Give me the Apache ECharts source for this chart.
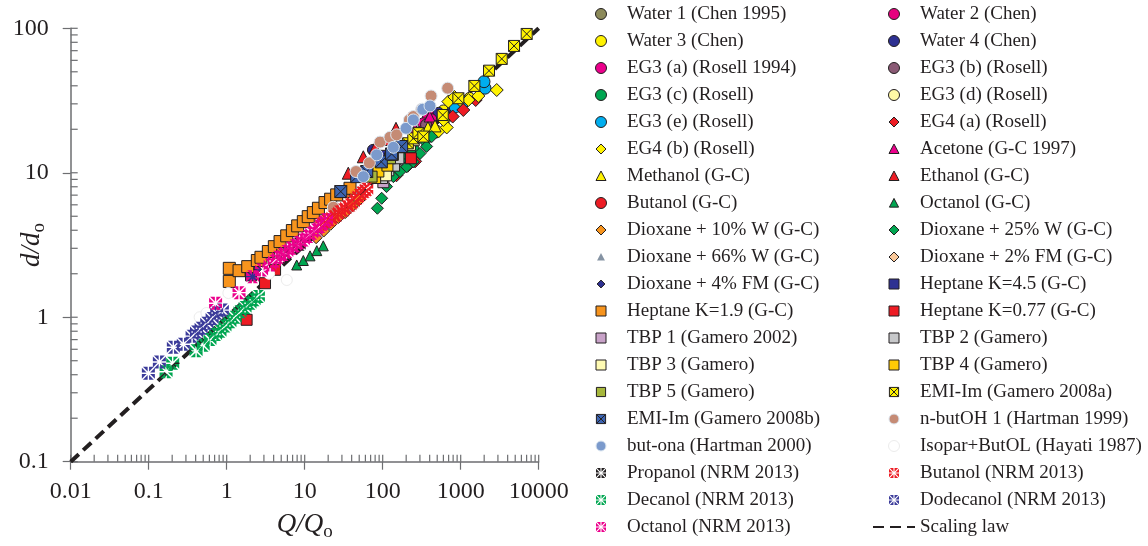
<!DOCTYPE html>
<html>
<head>
<meta charset="utf-8">
<title>Droplet size scaling</title>
<script src="https://cdn.jsdelivr.net/npm/echarts@6.0.0/dist/echarts.min.js"></script>
<style>
html, body { margin: 0; padding: 0; background: #ffffff; }
#chart { width: 1148px; height: 546px; }
</style>
</head>
<body>
<div id="chart"></div>
<script>
// ---- Axis tick labels ----
const xTickLabels = ['0.01', '0.1', '1', '10', '100', '1000', '10000'];
const yTickLabels = ['0.1', '1', '10', '100'];

// ---- Measured points: [Q/Qo, d/do] ----
const water1 = [[150, 14.5], [420, 22]];
const water2 = [[380, 24], [450, 25.5]];
const water3 = [[600, 27], [900, 30.5], [1300, 33]];
const water4 = [[75, 14.4], [520, 26], [800, 28]];
const eg3a = [[330, 22], [420, 23.5]];
const eg3b = [[280, 19], [360, 21.5]];
const eg3c = [[180, 12.5], [250, 14.5], [350, 16.8], [480, 19]];
const eg3d = [[300, 18.5], [650, 24]];
const eg3e = [[850, 28.5], [1100, 31], [2050, 38.5], [1990, 42.7]];
const eg4a = [[150, 9.6], [210, 11.2], [260, 12], [789, 24.5], [1080, 27.2], [1557, 31.9]];
const eg4b = [[366, 17.8], [517, 19.3], [662, 20.6], [600, 23.2], [695, 31.1], [830, 33.5], [980, 31.9], [1254, 31.9], [1684, 34], [2897, 37.4]];
const acetone = [[260, 20], [400, 24.5]];
const methanol = [[300, 19], [380, 20.5], [469, 21.1]];
const ethanol = [[36.2, 9.93], [56.4, 12.9], [80, 14.9], [110, 17], [148, 20.3]];
const butanolGC = [[130, 10.5], [230, 15.8]];
const octanolGC = [[7.9, 2.3], [9.6, 2.47], [11.7, 2.66], [14.3, 2.89], [17.3, 3.12], [180, 13.5], [230, 15]];
const dioxane10W = [[14, 3.55], [17.5, 3.95], [21.5, 4.4], [27, 4.9], [33, 5.3], [41, 5.9], [50, 6.5]];
const dioxane25W = [[85.5, 5.68], [97, 6.66], [112, 8.02], [137, 9.4], [167, 10.2], [203, 11], [247, 11.9], [301, 13.6], [366, 15.2], [425, 17.8]];
const dioxane66W = [[120, 10.8], [165, 12.3]];
const dioxane2FM = [[105, 9.8], [145, 11.5]];
const dioxane4FM = [[2.15, 2.01], [2.45, 2.15]];
const heptane45 = [[2.05, 1.95], [75, 11.6], [95, 13.1]];
const heptane19 = [[1.08, 2.18], [1.08, 1.77], [1.44, 2.10], [1.86, 2.24], [2.47, 2.47], [2.75, 2.60], [3.42, 2.85], [4.08, 3.08], [4.83, 3.34], [5.88, 3.66], [6.95, 3.98], [8.13, 4.29], [9.6, 4.59], [11.1, 4.97], [12.9, 5.30], [15.0, 5.68], [18.2, 6.22], [21.5, 6.56], [25.7, 7.03], [31.3, 7.41], [38.1, 7.81]];
const heptane077 = [[1.80, 0.96], [3.1, 1.72], [4.17, 2.13], [230, 12.6]];
const tbp1 = [[102, 8.6]];
const tbp2 = [[98, 9.2], [118, 10.4], [140, 11.2], [159, 12.6]];
const tbp3 = [[110, 9.6], [224, 15.6], [250, 16.8]];
const tbp4 = [[80, 9.2], [88, 10.2], [115, 11.2]];
const tbp5 = [[72, 9.4], [124, 12.6], [135, 13.3]];
const emiA = [[210, 16], [247, 17.3], [287, 18.8], [332, 17.8], [588, 25.1], [933, 32.8], [1496, 39.9], [2307, 50.9], [3355, 61.4], [4830, 75.5], [7015, 91.4]];
const emiB = [[29, 7.41], [46.4, 9.4], [62.4, 10.2], [96, 11.9], [130, 13.5], [175, 15.2]];
const nButOH = [[23.3, 5.77], [45.5, 10.2], [67.5, 11.7], [92.5, 16.3], [124, 17.6], [151, 18.3], [220, 23.2], [247, 24.5], [316, 27.5], [417, 34], [681, 38.5]];
const butOna = [[56.5, 9.4], [83.8, 13.3], [137, 15], [199, 20.3], [247, 23.2], [326, 27.5], [404, 29]];
const isoparButOL = [[0.45, 1.0], [0.55, 1.07], [1.05, 1.47], [3.5, 2.0], [5.9, 1.81]];
const propanolNRM = [[5.2, 2.75], [8.5, 3.2]];
const butanolNRM = [[16.5, 4.4], [19, 4.6], [21.1, 4.72], [23, 4.95], [25.7, 5.11], [28, 5.35], [31.3, 5.53], [34.5, 5.8], [38.1, 5.99], [42, 6.3], [46.4, 6.66], [50, 6.95], [53.8, 7.21], [58, 7.45], [62.4, 7.69]];
const decanolNRM = [[0.167, 0.42], [0.203, 0.48], [0.405, 0.585], [0.5, 0.64], [0.61, 0.70], [0.72, 0.76], [0.82, 0.80], [0.95, 0.87], [1.1, 0.93], [1.28, 1.0], [1.48, 1.09], [1.72, 1.17], [1.99, 1.25], [2.25, 1.32], [2.55, 1.39]];
const dodecanolNRM = [[0.099, 0.41], [0.137, 0.49], [0.207, 0.62], [0.278, 0.65], [0.36, 0.74], [0.41, 0.79], [0.47, 0.84], [0.555, 0.91], [0.65, 0.98], [0.745, 1.07], [0.88, 1.12]];
const octanolNRM = [[0.72, 1.25], [1.44, 1.48], [2.15, 1.91], [2.8, 2.12], [3.6, 2.3], [4.1, 2.45], [4.6, 2.6], [5.3, 2.72], [5.9, 2.85], [6.7, 3.0], [7.5, 3.12], [8.5, 3.28], [9.6, 3.43], [11, 3.62], [12.3, 3.81], [14, 4.02], [15.7, 4.24], [17.3, 4.48], [19.1, 4.72]];

// Scaling law d/do = (Q/Qo)^(1/2), end points
const scalingLaw = [[0.01, 0.1], [10000, 100]];

// ---- Marker shapes (paths keep their aspect in the legend) ----
const SHAPES = {
  circle: 'M0,10A10,10,0,1,1,20,10A10,10,0,1,1,0,10Z',
  diamond: 'M10,0L20,10L10,20L0,10Z',
  triangle: 'M10,0L20,19L0,19Z',
  square: 'M0,0H20V20H0Z',
  xbox: 'M0,0H20V20H0Z M0,0L20,20 M20,0L0,20',
  star: 'M12.7,11.1L20,11.1L20,18.4Z M11.1,12.7L11.1,20L18.4,20Z ' +
        'M7.3,11.1L0,11.1L0,18.4Z M8.9,12.7L8.9,20L1.6,20Z ' +
        'M12.7,8.9L20,8.9L20,1.6Z M11.1,7.3L11.1,0L18.4,0Z ' +
        'M7.3,8.9L0,8.9L0,1.6Z M8.9,7.3L8.9,0L1.6,0Z'
};
// a wider empty frame makes a smaller legend icon
function framed(path, pad) { return 'path://M' + (-pad) + ',' + (-pad) + ' ' + path + ' M' + (20 + pad) + ',' + (20 + pad); }

const INK = '#231f20';
const AXIS = '#6d6e71';
const FONT = 'Liberation Serif';

// name, data, shape, fill, border colour, border width, size, legend icon padding
const seriesTable = [
  ['Water 1 (Chen 1995)', water1, 'circle', '#8c8a5a', INK, 1, 11, 0],
  ['Water 2 (Chen)', water2, 'circle', '#e6007e', INK, 1, 11, 0],
  ['Water 3 (Chen)', water3, 'circle', '#fff200', INK, 1, 11, 0],
  ['Water 4 (Chen)', water4, 'circle', '#2e3192', INK, 1, 11, 0],
  ['EG3 (a) (Rosell 1994)', eg3a, 'circle', '#ec008c', INK, 1, 11, 0],
  ['EG3 (b) (Rosell)', eg3b, 'circle', '#8a5a75', INK, 1, 11, 0],
  ['EG3 (c) (Rosell)', eg3c, 'circle', '#00a651', INK, 1, 11, 0],
  ['EG3 (d) (Rosell)', eg3d, 'circle', '#fff9a6', INK, 1, 11, 0],
  ['EG3 (e) (Rosell)', eg3e, 'circle', '#00aeef', INK, 1, 12, 0],
  ['EG4 (a) (Rosell)', eg4a, 'diamond', '#ed1c24', INK, 1, 13, 1],
  ['EG4 (b) (Rosell)', eg4b, 'diamond', '#fff200', INK, 1, 13, 1],
  ['Acetone (G-C 1997)', acetone, 'triangle', '#ec008c', INK, 1, 11, 1],
  ['Methanol (G-C)', methanol, 'triangle', '#fff200', INK, 1, 12, 1],
  ['Ethanol (G-C)', ethanol, 'triangle', '#ed1c24', INK, 1, 12, 1],
  ['Butanol (G-C)', butanolGC, 'circle', '#ed1c24', INK, 1, 11, 0],
  ['Octanol (G-C)', octanolGC, 'triangle', '#00a651', INK, 1, 10, 2],
  ['Dioxane + 10% W (G-C)', dioxane10W, 'diamond', '#f7941d', INK, 1, 12, 1],
  ['Dioxane + 25% W (G-C)', dioxane25W, 'diamond', '#00a651', INK, 1, 12, 1],
  ['Dioxane + 66% W (G-C)', dioxane66W, 'triangle', '#8593a3', 'transparent', 0, 9, 4],
  ['Dioxane + 2% FM (G-C)', dioxane2FM, 'diamond', '#fbc99a', INK, 1, 11, 1],
  ['Dioxane + 4% FM (G-C)', dioxane4FM, 'diamond', '#2e3192', INK, 1, 9, 4],
  ['Heptane K=4.5 (G-C)', heptane45, 'square', '#2e3192', INK, 1, 11, 1],
  ['Heptane K=1.9 (G-C)', heptane19, 'square', '#f7941d', INK, 1, 12, 1],
  ['Heptane K=0.77 (G-C)', heptane077, 'square', '#ed1c24', INK, 1, 11, 1],
  ['TBP 1 (Gamero 2002)', tbp1, 'square', '#c8a2c8', INK, 1, 11, 1],
  ['TBP 2 (Gamero)', tbp2, 'square', '#c7c8ca', INK, 1, 11, 1],
  ['TBP 3 (Gamero)', tbp3, 'square', '#fffbb3', INK, 1, 11, 1],
  ['TBP 4 (Gamero)', tbp4, 'square', '#ffcb05', INK, 1, 11, 1],
  ['TBP 5 (Gamero)', tbp5, 'square', '#a6b73c', INK, 1, 11, 2],
  ['EMI-Im (Gamero 2008a)', emiA, 'xbox', '#fff200', INK, 1, 11, 2],
  ['EMI-Im (Gamero 2008b)', emiB, 'xbox', '#3c64b1', INK, 1, 12, 2],
  ['n-butOH 1 (Hartman 1999)', nButOH, 'circle', '#c58b75', '#dce6f0', 1, 12, 1],
  ['but-ona (Hartman 2000)', butOna, 'circle', '#7b9acc', '#dce6f0', 1, 12, 1],
  ['Isopar+ButOL (Hayati 1987)', isoparButOL, 'circle', '#ffffff', '#ececec', 1, 11, 0],
  ['Propanol (NRM 2013)', propanolNRM, 'star', '#231f20', 'transparent', 0, 13, 1],
  ['Butanol (NRM 2013)', butanolNRM, 'star', '#ed1c24', 'transparent', 0, 13, 1],
  ['Decanol (NRM 2013)', decanolNRM, 'star', '#00a651', 'transparent', 0, 13, 1],
  ['Dodecanol (NRM 2013)', dodecanolNRM, 'star', '#3b3b9a', 'transparent', 0, 13, 1],
  ['Octanol (NRM 2013)', octanolNRM, 'star', '#ec008c', 'transparent', 0, 13, 1]
];

const X_MIN = 0.01, X_MAX = 10000, Y_MIN = 0.1, Y_MAX = 100;

// minor + major tick positions of a decade axis (1..9 × 10^n)
function decadeTicks(min, max) {
  const out = [];
  for (let e = Math.round(Math.log10(min)); e < Math.round(Math.log10(max)); e++) {
    for (let s = 1; s <= 9; s++) out.push(s * Math.pow(10, e));
  }
  out.push(max);
  return out;
}

const scatterSeries = seriesTable.map(function (s) {
  return {
    type: 'scatter',
    name: s[0],
    data: s[1],
    symbol: 'path://' + SHAPES[s[2]],
    symbolSize: s[6],
    itemStyle: { color: s[3], borderColor: s[4], borderWidth: s[5], opacity: 1 },
    emphasis: { disabled: true },
    z: 3
  };
});

const legendItems = seriesTable.map(function (s) {
  return {
    name: s[0],
    icon: framed(SHAPES[s[2]], s[7]),
    itemStyle: { color: s[3], borderWidth: s[5], borderColor: s[4] }
  };
});
const leftItems = legendItems.filter(function (d, i) { return i % 2 === 0; });
const rightItems = legendItems.filter(function (d, i) { return i % 2 === 1; });
rightItems.push({ name: 'Scaling law', itemStyle: { color: 'transparent', borderWidth: 0 } });

const legendBase = {
  orient: 'vertical',
  top: 4,
  padding: 0,
  itemWidth: 42,
  itemHeight: 11,
  itemGap: 7,
  symbolKeepAspect: true,
  selectedMode: false,
  textStyle: { fontFamily: FONT, fontSize: 19, color: INK, lineHeight: 20 }
};

const nameRich = {
  i: { fontFamily: FONT, fontSize: 27, fontStyle: 'italic', color: INK },
  s: { fontFamily: FONT, fontSize: 19, color: INK, padding: [14, 0, 0, 0] }
};

const chart = echarts.init(document.getElementById('chart'), null, { renderer: 'canvas' });

chart.setOption({
  animation: false,
  backgroundColor: '#ffffff',
  grid: { left: 70.7, right: 609.3, top: 28.3, bottom: 84.3, containLabel: false, outerBoundsMode: 'none' },
  legend: [
    Object.assign({}, legendBase, { left: 595, data: leftItems }),
    Object.assign({}, legendBase, { left: 872, data: rightItems })
  ],
  xAxis: {
    type: 'log',
    logBase: 10,
    min: X_MIN,
    max: X_MAX,
    splitNumber: 6,
    name: '{i|Q/Q}{s|o}',
    nameLocation: 'middle',
    nameGap: 47,
    nameMoveOverlap: false,
    nameTextStyle: { rich: nameRich },
    axisLine: { lineStyle: { color: AXIS, width: 1.5 } },
    axisTick: { inside: false, length: 8, lineStyle: { color: AXIS, width: 1.2 } },
    minorTick: { show: false },
    splitLine: { show: false },
    axisLabel: {
      fontFamily: FONT, fontSize: 24, color: INK, margin: 18,
      formatter: function (v) { return xTickLabels[Math.round(Math.log10(v)) + 2]; }
    }
  },
  yAxis: {
    type: 'log',
    logBase: 10,
    min: Y_MIN,
    max: Y_MAX,
    splitNumber: 3,
    name: '{i|d/d}{s|o}',
    nameLocation: 'middle',
    nameRotate: 90,
    nameGap: 22,
    nameMoveOverlap: false,
    nameTextStyle: { rich: nameRich },
    axisLine: { lineStyle: { color: AXIS, width: 1.5 } },
    axisTick: { inside: false, length: 8, lineStyle: { color: AXIS, width: 1.2 } },
    minorTick: { show: false },
    splitLine: { show: false },
    axisLabel: {
      fontFamily: FONT, fontSize: 24, color: INK, margin: 22,
      formatter: function (v) { return yTickLabels[Math.round(Math.log10(v)) + 1]; }
    }
  },
  series: [
    {
      type: 'line',
      name: 'Scaling law',
      data: scalingLaw,
      symbol: 'none',
      lineStyle: { color: INK, width: 4, type: [11, 6] },
      itemStyle: { color: INK },
      emphasis: { disabled: true },
      z: 2
    },
    {
      // inward ticks along the Q/Qo axis
      type: 'custom',
      silent: true,
      data: decadeTicks(X_MIN, X_MAX).map(function (v) { return [v, Y_MIN]; }),
      renderItem: function (params, api) {
        const p = api.coord([api.value(0), api.value(1)]);
        return { type: 'line', shape: { x1: p[0], y1: p[1], x2: p[0], y2: p[1] - 7 },
                 style: { stroke: AXIS, lineWidth: 1.2 } };
      },
      z: 1
    },
    {
      // inward ticks along the d/do axis
      type: 'custom',
      silent: true,
      data: decadeTicks(Y_MIN, Y_MAX).map(function (v) { return [X_MIN, v]; }),
      renderItem: function (params, api) {
        const p = api.coord([api.value(0), api.value(1)]);
        return { type: 'line', shape: { x1: p[0], y1: p[1], x2: p[0] + 7, y2: p[1] },
                 style: { stroke: AXIS, lineWidth: 1.2 } };
      },
      z: 1
    }
  ].concat(scatterSeries)
});
</script>
</body>
</html>
